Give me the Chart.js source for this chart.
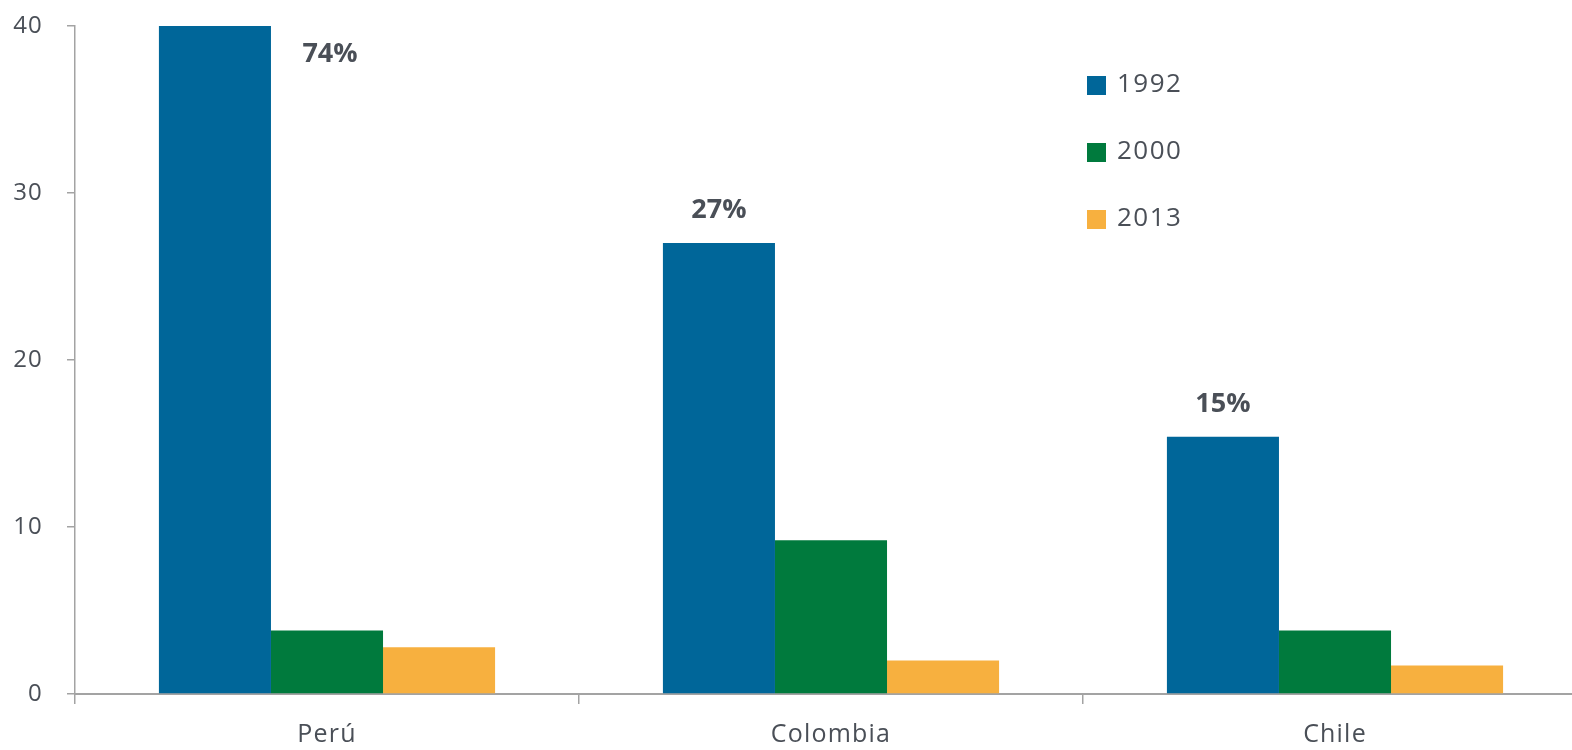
<!DOCTYPE html>
<html lang="es">
<head>
    <meta charset="UTF-8">
    <title>Perú, Colombia, Chile</title>
    <script src="https://cdn.jsdelivr.net/npm/chart.js@4/dist/chart.umd.min.js"></script>
    <style>
        body {
            margin: 0;
            overflow: hidden;
            background: #fff;
        }
        #wrap {
            position: absolute;
            top: 0;
            left: 0;
            width: 1590px;
            height: 750px;
        }
    </style>
</head>
<body>
<div id="wrap">
    <canvas id="myBar" width="1590" height="750"></canvas>
</div>
<script>
    // datos
    const paises = ["Perú", "Colombia", "Chile"];
    const anios = ["1992", "2000", "2013"];
    const v1992 = [74, 27, 15.4];
    const v2000 = [3.8, 9.2, 3.8];
    const v2013 = [2.8, 2.0, 1.7];
    const etiquetas = ["74%", "27%", "15%"];
    const yTicks = [0, 10, 20, 30, 40];

    const colores = ["#006699", "#007a3d", "#f7b03f"];
    const txt = "#4a4f57";
    const eje = "#a3a3a3";
    const fuente = "'Open Sans', sans-serif";

    // un poco de espacio entre letras, como en el original
    const espaciado = {
        id: "espaciado",
        beforeDraw(chart) { chart.ctx.letterSpacing = "1.2px"; }
    };

    // leyenda a mano (arriba a la derecha)
    const leyenda = {
        id: "leyenda",
        afterDraw(chart) {
            const ctx = chart.ctx;
            ctx.save();
            ctx.letterSpacing = "1.5px";
            ctx.font = "26px " + fuente;
            ctx.textBaseline = "middle";
            chart.data.datasets.forEach((ds, i) => {
                const y = 85 + i * 67;
                ctx.fillStyle = ds.backgroundColor;
                ctx.fillRect(1087, y - 9, 19, 19);
                ctx.fillStyle = txt;
                ctx.fillText(ds.label, 1117, y);
            });
            ctx.restore();
        }
    };

    // porcentajes sobre las barras de 1992
    const porcentajes = {
        id: "porcentajes",
        afterDatasetsDraw(chart) {
            const ctx = chart.ctx;
            const yScale = chart.scales.y;
            const meta = chart.getDatasetMeta(0);
            const meta2 = chart.getDatasetMeta(1);
            ctx.save();
            ctx.letterSpacing = "0px";
            ctx.font = "bold 27px " + fuente;
            ctx.fillStyle = txt;
            ctx.textAlign = "center";
            ctx.textBaseline = "middle";
            meta.data.forEach((bar, i) => {
                let x = bar.x, y = bar.y - 33;
                if (chart.data.datasets[0].data[i] > yScale.max) {
                    // barra cortada: el texto va al lado
                    x = meta2.data[i].x + 3;
                    y = chart.chartArea.top + 28;
                }
                ctx.fillText(etiquetas[i], x, y);
            });
            ctx.restore();
        }
    };

    const series = [v1992, v2000, v2013];
    const datasets = series.map((d, i) => ({
        label: anios[i],
        data: d,
        backgroundColor: colores[i],
        borderWidth: 0,
        barPercentage: 1,
        categoryPercentage: 0.667
    }));

    new Chart(document.getElementById("myBar"), {
        type: "bar",
        data: { labels: paises, datasets: datasets },
        plugins: [espaciado, porcentajes, leyenda],
        options: {
            responsive: false,
            animation: false,
            layout: { padding: { top: 26, right: 3, left: 0, bottom: 0 } },
            plugins: {
                legend: { display: false },
                tooltip: { enabled: false }
            },
            scales: {
                x: {
                    grid: {
                        offset: true,
                        drawOnChartArea: false,
                        drawTicks: true,
                        tickLength: 10,
                        color: eje,
                        lineWidth: 1.5
                    },
                    border: { color: eje, width: 2 },
                    ticks: { color: txt, font: { family: fuente, size: 25 }, padding: 16 },
                    afterFit(scale) {
                        scale.height = 56;
                        scale.paddingLeft = 0;
                        scale.paddingRight = 0;
                    }
                },
                y: {
                    min: 0,
                    max: 40,
                    afterBuildTicks(scale) { scale.ticks = yTicks.map(v => ({ value: v })); },
                    grid: {
                        drawOnChartArea: false,
                        drawTicks: true,
                        tickLength: 8,
                        color: eje,
                        lineWidth: 1.5
                    },
                    border: { color: eje, width: 1.5 },
                    ticks: { color: txt, font: { family: fuente, size: 24 }, padding: 24 },
                    afterFit(scale) {
                        scale.width = 75;
                        scale.paddingTop = 0;
                        scale.paddingBottom = 0;
                    }
                }
            }
        }
    });
</script>
</body>
</html>
